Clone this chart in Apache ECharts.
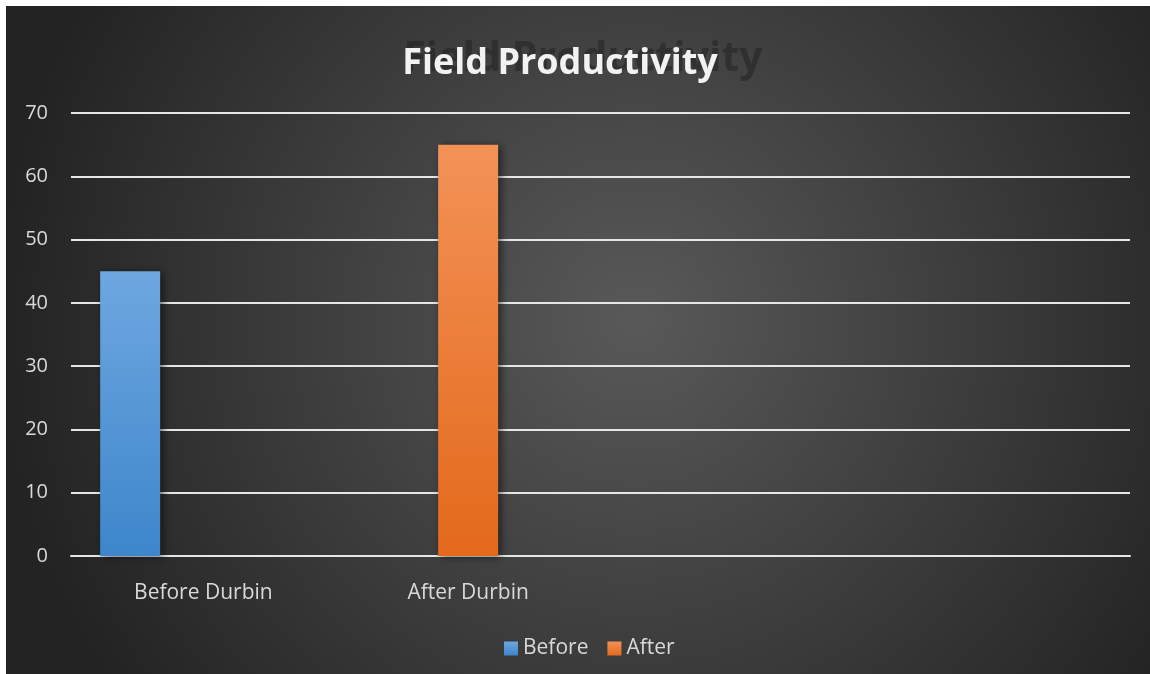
<!DOCTYPE html>
<html>
<head>
<meta charset="utf-8">
<script src="https://cdn.jsdelivr.net/npm/echarts@6/dist/echarts.min.js"></script>
<style>
  html, body { margin: 0; padding: 0; background: #ffffff; }
  #chart { position: absolute; left: 6px; top: 6px; width: 1144px; height: 668px; }
</style>
</head>
<body>
<div id="chart"></div>
<script>
const categories = ['Before Durbin', 'After Durbin', '', ''];
const beforeValues = [45, '-', '-', '-'];
const afterValues = ['-', 65, '-', '-'];
const padValues = ['-', '-', '-', '-'];
const yTicks = { min: 0, max: 70, interval: 10 };
const titleText = 'Field Productivity';
const legendNames = ['Before', 'After'];

const FONT = '"Open Sans", "Noto Sans", sans-serif';
const chart = echarts.init(document.getElementById('chart'));

function grad(top, bottom) {
  return new echarts.graphic.LinearGradient(0, 0, 0, 1, [
    { offset: 0, color: top }, { offset: 1, color: bottom }
  ]);
}
const barShadow = { shadowColor: 'rgba(0,0,0,0.55)', shadowBlur: 8, shadowOffsetX: 3, shadowOffsetY: 1 };

chart.setOption({
  backgroundColor: {
    type: 'radial', x: 0.55, y: 0.47, r: 0.95,
    colorStops: [{ offset: 0, color: '#595959' }, { offset: 1, color: '#232323' }]
  },
  animation: false,
  graphic: [
    {
      type: 'text', z: 1,
      style: {
        text: titleText, x: 577, y: 53, align: 'center', verticalAlign: 'middle',
        font: 'bold 41px ' + FONT, fill: 'rgba(22,22,22,0.38)',
        shadowColor: 'rgba(22,22,22,0.6)', shadowBlur: 6
      }
    },
    {
      type: 'text', z: 2,
      style: {
        text: titleText, x: 554, y: 58, align: 'center', verticalAlign: 'middle',
        font: 'bold 36px ' + FONT, fill: '#f2f2f2'
      }
    }
  ],
  legend: {
    data: legendNames, left: 493, top: 627, itemWidth: 14, itemHeight: 14, itemGap: 19,
    icon: 'rect',
    textStyle: { color: '#d9d9d9', fontSize: 21, fontFamily: FONT }
  },
  grid: { left: 65, right: 20, top: 107, bottom: 118, containLabel: false },
  xAxis: {
    type: 'category', data: categories,
    axisLine: { show: true, lineStyle: { color: '#e6e6e6', width: 2 } },
    axisTick: { show: false },
    axisLabel: { color: '#d9d9d9', fontSize: 21, fontFamily: FONT, margin: 27, interval: 0 },
    splitLine: { show: false }
  },
  yAxis: {
    type: 'value', min: yTicks.min, max: yTicks.max, interval: yTicks.interval,
    axisLine: { show: false }, axisTick: { show: false },
    axisLabel: { color: '#d9d9d9', fontSize: 20, fontFamily: FONT, margin: 23, padding: [8, 0, 0, 0] },
    splitLine: { show: true, lineStyle: { color: '#e6e6e6', width: 2 } }
  },
  series: [
    { name: 'Before', type: 'bar', data: beforeValues, barWidth: 60, barGap: '22%',
      itemStyle: Object.assign({ color: grad('#6ea7e0', '#3d86cb') }, barShadow) },
    { name: 'After', type: 'bar', data: afterValues, barWidth: 60, barGap: '22%',
      itemStyle: Object.assign({ color: grad('#f39257', '#e3691b') }, barShadow) },
    { name: 'pad', type: 'bar', data: padValues, barWidth: 60, barGap: '22%' }
  ]
});
</script>
</body>
</html>
